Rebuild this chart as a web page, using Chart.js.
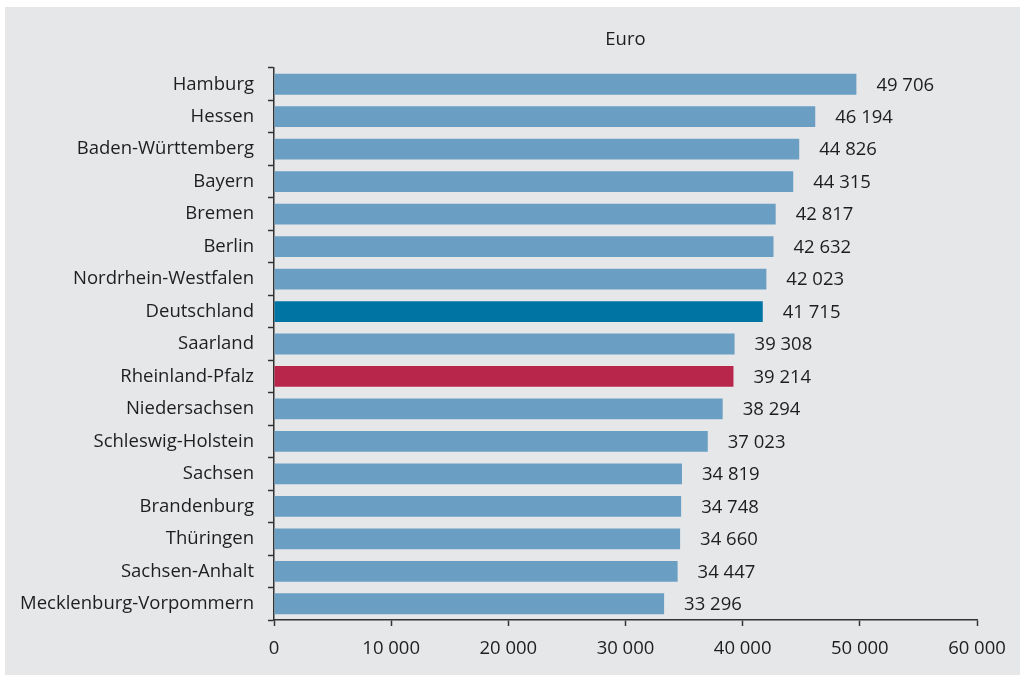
<!DOCTYPE html>
<html>
<head>
<meta charset="utf-8">
<script src="https://cdn.jsdelivr.net/npm/chart.js@4.4.1/dist/chart.umd.min.js"></script>
<style>
  html, body { margin: 0; padding: 0; background: #ffffff; }
  #wrap { position: absolute; left: 5px; top: 7px; width: 1015px; height: 668px; background: #e6e7e9; }
  canvas { display: block; }
</style>
</head>
<body>
<div id="wrap"><canvas id="c" width="1015" height="668"></canvas></div>
<script>
const categories = ["Hamburg","Hessen","Baden-Württemberg","Bayern","Bremen","Berlin","Nordrhein-Westfalen","Deutschland","Saarland","Rheinland-Pfalz","Niedersachsen","Schleswig-Holstein","Sachsen","Brandenburg","Thüringen","Sachsen-Anhalt","Mecklenburg-Vorpommern"];
const values = [49706,46194,44826,44315,42817,42632,42023,41715,39308,39214,38294,37023,34819,34748,34660,34447,33296];
const unitLabel = "Euro";
const xTicks = [0,10000,20000,30000,40000,50000,60000];

const baseColor = "#6a9ec3";
const deColor = "#0075a4";
const rpColor = "#b9264b";
const barColors = categories.map(c => c === "Deutschland" ? deColor : (c === "Rheinland-Pfalz" ? rpColor : baseColor));

const fmt = v => String(v).replace(/\B(?=(\d{3})+(?!\d))/g, " ");
const FONT = "'Open Sans', 'Noto Sans', sans-serif";
const FS = 18.5;
const TXT = "#1e1e1e";

const labelPlugin = {
  id: "labels",
  afterDatasetsDraw(chart) {
    const ctx = chart.ctx;
    const meta = chart.getDatasetMeta(0);
    ctx.save();
    ctx.font = FS + "px " + FONT;
    ctx.fillStyle = TXT;
    ctx.textBaseline = "middle";
    ctx.textAlign = "left";
    meta.data.forEach((bar, i) => {
      ctx.fillText(fmt(values[i]), bar.x + 20, bar.y + 1);
    });
    const ca = chart.chartArea;
    ctx.textAlign = "center";
    ctx.fillText(unitLabel, (ca.left + ca.right) / 2, 33);
    ctx.restore();
  }
};

new Chart(document.getElementById("c"), {
  type: "bar",
  data: {
    labels: categories,
    datasets: [{
      data: values,
      backgroundColor: barColors,
      borderWidth: 0,
      categoryPercentage: 0.64,
      barPercentage: 1.0
    }]
  },
  options: {
    indexAxis: "y",
    responsive: false,
    animation: false,
    layout: { padding: { top: 61, right: 43, left: 0, bottom: 0 } },
    plugins: { legend: { display: false }, tooltip: { enabled: false } },
    scales: {
      x: {
        min: 0, max: 60000,
        afterBuildTicks(scale) { scale.ticks = xTicks.map(v => ({ value: v })); },
        afterFit(scale) { scale.height = 55; },
        grid: { drawOnChartArea: false, tickLength: 6, tickColor: "#333", tickWidth: 1.5 },
        border: { color: "#333", width: 1.5 },
        ticks: { color: TXT, font: { family: FONT, size: FS }, padding: 12, maxRotation: 0, callback: v => fmt(v) }
      },
      y: {
        afterFit(scale) { scale.width = 269; },
        grid: { drawOnChartArea: false, offset: true, tickLength: 6, tickColor: "#333", tickWidth: 1.5 },
        border: { color: "#333", width: 1.5 },
        ticks: { color: TXT, font: { family: FONT, size: FS }, padding: 14, autoSkip: false }
      }
    }
  },
  plugins: [labelPlugin]
});
</script>
</body>
</html>
